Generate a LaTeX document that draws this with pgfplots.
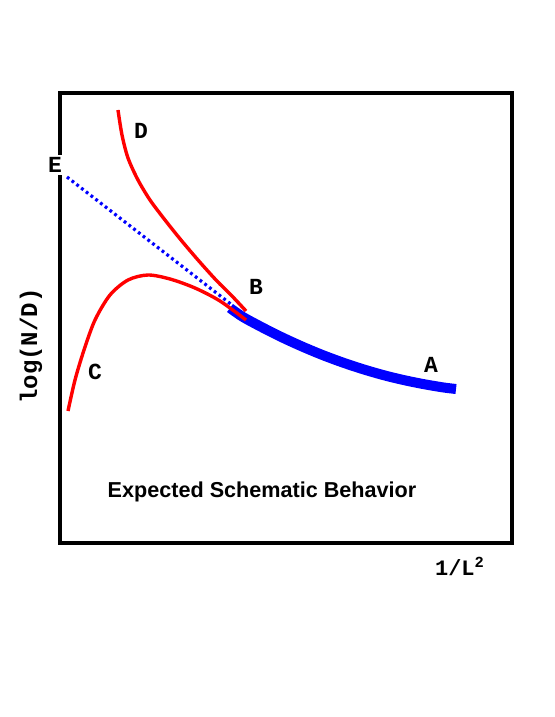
\documentclass[border=0pt]{standalone}
\usepackage{fontspec}
\usepackage{pgfplots}
\pgfplotsset{compat=1.18}
\setmainfont{Liberation Sans}
\newfontfamily\mono{Liberation Mono}
\begin{document}
\begin{tikzpicture}
\begin{axis}[
  scale only axis, width=226pt, height=225pt,
  xmin=60, xmax=512, ymin=93, ymax=543, y dir=reverse,
  axis line style={line width=2pt, black},
  ticks=none, clip=false,
]
\coordinate (ll) at (axis cs:0,717);
\coordinate (ur) at (axis cs:554,0);
% dotted E line
\addplot[blue, line width=1.6pt, dash pattern=on 1.4pt off 1.6pt] coordinates {(67,177) (232,305)};
% thick blue A
\addplot[blue, line width=5pt, smooth, tension=0.5] coordinates {(230,308) (243,317) (263,327.8) (283,337.8) (303,346.9) (323,355.2) (343,362.6) (363,369.2) (383,375) (403,379.9) (423,384) (443,387.4) (456,389)};
% red D
\addplot[red, line width=1.7pt, smooth, tension=0.5, line join=round] coordinates {(118,110) (122,135) (128,158) (138,180) (150,200) (165,220) (181,240) (198,260) (216,280) (232,296) (246,311)};
% red C
\addplot[red, line width=1.7pt, smooth, tension=0.5, line join=round] coordinates {(68,411) (75,380) (84,350) (95,320) (110,295) (128,280) (148,275) (170,279) (195,288) (220,301) (246,320)};
\node[fill=white, inner sep=1pt, font=\mono\bfseries\fontsize{11.5pt}{11pt}\selectfont] at (axis cs:55,165) {E};
\node[font=\mono\bfseries\fontsize{11.5pt}{11pt}\selectfont] at (axis cs:141,131) {D};
\node[font=\mono\bfseries\fontsize{11.5pt}{11pt}\selectfont] at (axis cs:256,287) {B};
\node[font=\mono\bfseries\fontsize{11.5pt}{11pt}\selectfont] at (axis cs:431,365) {A};
\node[font=\mono\bfseries\fontsize{11.5pt}{11pt}\selectfont] at (axis cs:95,372) {C};
\node[font=\bfseries\fontsize{10.8pt}{12pt}\selectfont] at (axis cs:262,492) {Expected Schematic Behavior};
\node[rotate=90, font=\mono\bfseries\fontsize{12pt}{12pt}\selectfont] at (axis cs:31,346) {log(N/D)};
\node[font=\mono\bfseries\fontsize{11pt}{12pt}\selectfont] at (axis cs:460,566) {1/L\textsuperscript{2}};
\end{axis}
\pgfresetboundingbox
\path[use as bounding box] (ll) rectangle (ur);
\end{tikzpicture}
\end{document}
